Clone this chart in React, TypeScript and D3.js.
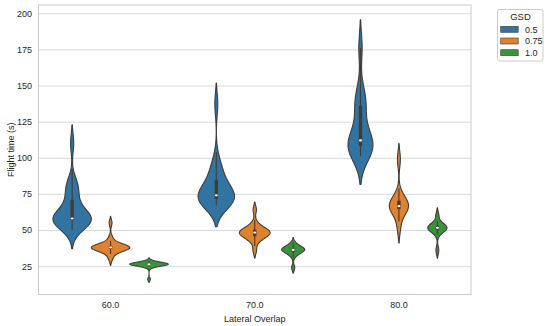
import { useRef, useEffect } from 'react'
import * as d3 from 'd3'

const overlaps = ['60.0', '70.0', '80.0']
const gsdLevels = ['0.5', '0.75', '1.0']
const gsdColors = ['#3274a1', '#e1812c', '#3a923a']
const yTicks = [25, 50, 75, 100, 125, 150, 175, 200]

// flight times (s) per lateral overlap / GSD pair
const overlap60Gsd05 = [50, 53, 55, 56, 56, 57, 57, 58, 58, 58, 58, 60, 63, 66, 70, 74, 79, 81, 83, 110]
const overlap60Gsd075 = [30, 33, 35, 36, 36.5, 37, 37, 37.5, 37.5, 38, 38, 38, 38.5, 38.5, 39, 39.5, 40, 42, 45, 55]
const overlap60Gsd10 = [16, 24, 25, 25.5, 25.5, 26, 26, 26, 26, 26, 26.5, 26.5, 26.5, 26.5, 27, 27, 27, 27.5, 28, 28.5]
const overlap70Gsd05 = [67, 67, 69, 70, 71, 72, 72, 73, 73, 74, 76, 78, 80, 83, 86, 89, 93, 99, 137]
const overlap70Gsd075 = [36, 42, 44, 45, 46, 47, 47.5, 48, 48.5, 49, 49, 50, 51, 52, 55, 64]
const overlap70Gsd10 = [24, 32, 34, 35, 36, 36, 36.5, 37, 37, 38, 39, 41]
const overlap80Gsd05 = [101, 104, 106, 108, 109, 110, 112, 116, 126, 136, 139, 145, 176]
const overlap80Gsd075 = [52, 62, 64, 66, 66, 67, 68, 71, 74, 99]
const overlap80Gsd10 = [36, 48, 50, 51, 51, 52, 52, 53, 54, 60]

const samples = [
  [overlap60Gsd05, overlap60Gsd075, overlap60Gsd10],
  [overlap70Gsd05, overlap70Gsd075, overlap70Gsd10],
  [overlap80Gsd05, overlap80Gsd075, overlap80Gsd10],
]

const W = 550
const H = 326
const FONT = '"Liberation Sans", Arial, sans-serif'
const TEXT = '#262626'
const GRAY = '#3d3d3d'
const BW = 0.45 // kde bandwidth factor (times std)

// gaussian kde, cut = 2 like seaborn
function kde(values: number[], gridsize = 100) {
  const bw = d3.deviation(values)! * BW
  const lo = d3.min(values)! - 2 * bw
  const hi = d3.max(values)! + 2 * bw
  return d3.range(gridsize).map(i => {
    const t = lo + (hi - lo) * i / (gridsize - 1)
    const dens = d3.sum(values, v => Math.exp(-0.5 * ((t - v) / bw) ** 2))
    return [t, dens] as [number, number]
  })
}

export default function App() {
  const svgRef = useRef<SVGSVGElement>(null)

  useEffect(() => {
    const margin = { top: 5, right: 79, bottom: 31.5, left: 38.5 }
    const innerW = W - margin.left - margin.right
    const innerH = H - margin.top - margin.bottom

    const svg = d3.select(svgRef.current)
    svg.selectAll('*').remove()

    const g = svg.append('g').attr('transform', `translate(${margin.left},${margin.top})`)

    // Scales
    const x = d3.scaleBand().domain(overlaps).range([0, innerW]).padding(0)
    const hue = d3.scaleBand().domain(gsdLevels)
      .range([-0.4 * x.bandwidth(), 0.4 * x.bandwidth()])
    const y = d3.scaleLinear().domain([5.4, 205.7]).range([innerH, 0])

    // Grid + y ticks
    const yAxis = g.append('g')
      .call(d3.axisLeft(y).tickValues(yTicks).tickSize(-innerW).tickPadding(6.5))
    yAxis.select('.domain').remove()
    yAxis.selectAll('line').attr('stroke', '#d9d9d9').attr('stroke-width', 1)
    yAxis.selectAll('text').attr('fill', TEXT).attr('font-size', 9).attr('font-family', FONT)

    // X ticks
    const xAxis = g.append('g')
      .attr('transform', `translate(0,${innerH})`)
      .call(d3.axisBottom(x).tickSize(0).tickPadding(7))
    xAxis.select('.domain').remove()
    xAxis.selectAll('text').attr('fill', TEXT).attr('font-size', 9).attr('font-family', FONT)

    // Frame
    g.append('rect')
      .attr('width', innerW).attr('height', innerH)
      .attr('fill', 'none').attr('stroke', '#cccccc').attr('stroke-width', 1)

    // Violins (width scaled by count)
    const maxN = d3.max(samples.flat(), s => s.length)!
    const halfSlot = hue.bandwidth() / 2

    samples.forEach((group, i) => {
      group.forEach((values, j) => {
        const cx = x(overlaps[i])! + x.bandwidth() / 2 + hue(gsdLevels[j])! + hue.bandwidth() / 2
        const dens = kde(values)
        const peak = d3.max(dens, d => d[1])!
        const w = d3.scaleLinear().domain([0, peak]).range([0, halfSlot * values.length / maxN])

        const area = d3.area<[number, number]>()
          .x0(d => cx - w(d[1]))
          .x1(d => cx + w(d[1]))
          .y(d => y(d[0]))

        g.append('path')
          .datum(dens)
          .attr('d', area)
          .attr('fill', gsdColors[j])
          .attr('stroke', GRAY)
          .attr('stroke-width', 1.1)
          .attr('stroke-linejoin', 'round')

        // inner box
        const sorted = values.slice().sort(d3.ascending)
        const q1 = d3.quantile(sorted, 0.25)!
        const q2 = d3.quantile(sorted, 0.5)!
        const q3 = d3.quantile(sorted, 0.75)!
        const iqr = q3 - q1
        const hiW = Math.min(q3 + 1.5 * iqr, sorted[sorted.length - 1])
        const loW = Math.max(q1 - 1.5 * iqr, sorted[0])

        g.append('line')
          .attr('x1', cx).attr('x2', cx)
          .attr('y1', y(loW)).attr('y2', y(hiW))
          .attr('stroke', GRAY).attr('stroke-width', 1.1)
        g.append('line')
          .attr('x1', cx).attr('x2', cx)
          .attr('y1', y(q1)).attr('y2', y(q3))
          .attr('stroke', GRAY).attr('stroke-width', 3.4)
        g.append('ellipse')
          .attr('cx', cx).attr('cy', y(q2))
          .attr('rx', 1.5).attr('ry', 1.1)
          .attr('fill', 'white')
      })
    })

    // Axis labels
    svg.append('text')
      .attr('x', margin.left + innerW / 2).attr('y', 321.5)
      .attr('text-anchor', 'middle')
      .attr('font-size', 9).attr('font-family', FONT).attr('fill', TEXT)
      .text('Lateral Overlap')
    svg.append('text')
      .attr('transform', `translate(13.5,${margin.top + innerH / 2}) rotate(-90)`)
      .attr('text-anchor', 'middle')
      .attr('font-size', 9).attr('font-family', FONT).attr('fill', TEXT)
      .text('Flight time (s)')

    // Legend
    const leg = svg.append('g').attr('transform', 'translate(497.5,9.5)')
    leg.append('rect')
      .attr('width', 45.5).attr('height', 51.5).attr('rx', 2)
      .attr('fill', 'white').attr('stroke', '#cccccc').attr('stroke-width', 1)
    leg.append('text')
      .attr('x', 23).attr('y', 10.8)
      .attr('text-anchor', 'middle')
      .attr('font-size', 9.5).attr('font-family', FONT).attr('fill', TEXT)
      .text('GSD')
    gsdLevels.forEach((lvl, i) => {
      const cy = 19.8 + i * 11.7
      leg.append('rect')
        .attr('x', 3.2).attr('y', cy - 3).attr('width', 17.5).attr('height', 6)
        .attr('fill', gsdColors[i]).attr('stroke', GRAY).attr('stroke-width', 0.6)
      leg.append('text')
        .attr('x', 27.5).attr('y', cy + 3.2)
        .attr('font-size', 9).attr('font-family', FONT).attr('fill', TEXT)
        .text(lvl)
    })
  }, [])

  return (
    <div style={{ position: 'absolute', left: 0, top: 0 }}>
      <svg ref={svgRef} width={W} height={H} style={{ display: 'block', background: 'white' }} />
    </div>
  )
}
